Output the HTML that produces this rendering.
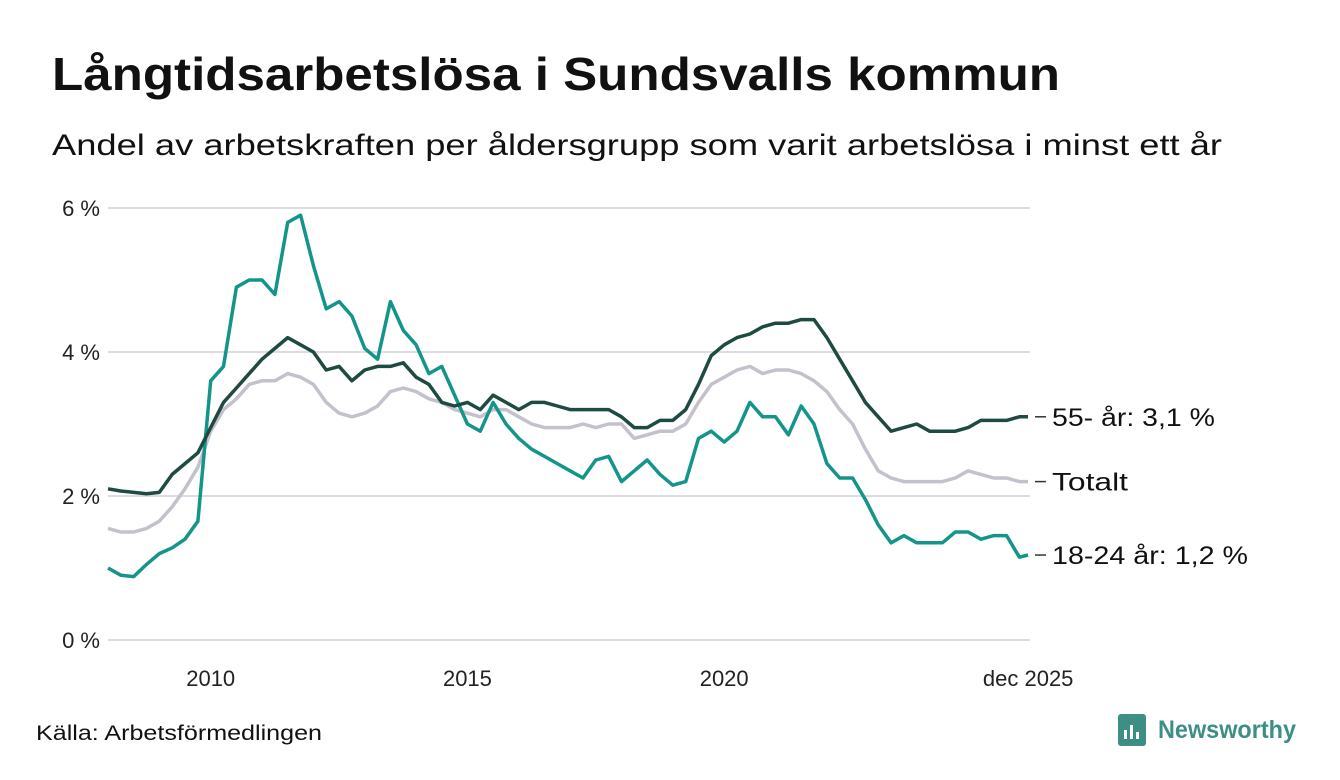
<!DOCTYPE html>
<html><head><meta charset="utf-8">
<style>
body{margin:0;background:#fff;font-family:"Liberation Sans","DejaVu Sans",sans-serif;}
#wrap{position:relative;width:1340px;height:780px;overflow:hidden;}
</style></head>
<body><div id="wrap">
<svg id="svg" width="1340" height="780">
<text x="52" y="90" font-size="46" font-weight="bold" fill="#111" textLength="1008" lengthAdjust="spacingAndGlyphs">Långtidsarbetslösa i Sundsvalls kommun</text>
<text x="52" y="155" font-size="30" fill="#111" textLength="1170" lengthAdjust="spacingAndGlyphs">Andel av arbetskraften per åldersgrupp som varit arbetslösa i minst ett år</text>
<text x="36" y="740" font-size="21" fill="#111" textLength="286" lengthAdjust="spacingAndGlyphs">Källa: Arbetsförmedlingen</text>
<g>
<rect x="1118" y="714" width="28" height="32" rx="3" fill="#3d8f85"/>
<rect x="1124" y="730" width="3" height="9" fill="#fff"/><rect x="1130" y="725" width="3" height="14" fill="#fff"/><rect x="1136" y="732" width="3" height="7" fill="#fff"/>
<text x="1158" y="738" font-size="25" font-weight="bold" fill="#3d8f85" textLength="138" lengthAdjust="spacingAndGlyphs">Newsworthy</text>
</g>
<g id="grid"></g><g id="lines"></g><g id="labels"></g>
</svg>
</div>
<script>
const yTicks=[0,2,4,6];
const yTickLabels=["0 %","2 %","4 %","6 %"];
const xTicks=[2010,2015,2020,2025.92];
const xTickLabels=["2010","2015","2020","dec 2025"];
const young=[1.0,0.9,0.88,1.05,1.2,1.28,1.4,1.65,3.6,3.8,4.9,5.0,5.0,4.8,5.8,5.9,5.2,4.6,4.7,4.5,4.05,3.9,4.7,4.3,4.1,3.7,3.8,3.4,3.0,2.9,3.3,3.0,2.8,2.65,2.55,2.45,2.35,2.25,2.5,2.55,2.2,2.35,2.5,2.3,2.15,2.2,2.8,2.9,2.75,2.9,3.3,3.1,3.1,2.85,3.25,3.0,2.45,2.25,2.25,1.95,1.6,1.35,1.45,1.35,1.35,1.35,1.5,1.5,1.4,1.45,1.45,1.15,1.18];
const old=[2.1,2.07,2.05,2.03,2.05,2.3,2.45,2.6,2.95,3.3,3.5,3.7,3.9,4.05,4.2,4.1,4.0,3.75,3.8,3.6,3.75,3.8,3.8,3.85,3.65,3.55,3.3,3.25,3.3,3.2,3.4,3.3,3.2,3.3,3.3,3.25,3.2,3.2,3.2,3.2,3.1,2.95,2.95,3.05,3.05,3.2,3.55,3.95,4.1,4.2,4.25,4.35,4.4,4.4,4.45,4.45,4.2,3.9,3.6,3.3,3.1,2.9,2.95,3.0,2.9,2.9,2.9,2.95,3.05,3.05,3.05,3.1,3.1];
const total=[1.55,1.5,1.5,1.55,1.65,1.85,2.1,2.4,2.9,3.2,3.35,3.55,3.6,3.6,3.7,3.65,3.55,3.3,3.15,3.1,3.15,3.25,3.45,3.5,3.45,3.35,3.3,3.2,3.15,3.1,3.2,3.2,3.1,3.0,2.95,2.95,2.95,3.0,2.95,3.0,3.0,2.8,2.85,2.9,2.9,3.0,3.3,3.55,3.65,3.75,3.8,3.7,3.75,3.75,3.7,3.6,3.45,3.2,3.0,2.65,2.35,2.25,2.2,2.2,2.2,2.2,2.25,2.35,2.3,2.25,2.25,2.2,2.2];
const seriesLabels=["55- år: 3,1 %","Totalt","18-24 år: 1,2 %"];
const labelLens=[163,76,196];

const NS="http://www.w3.org/2000/svg";
const X0=108,X1=1028,T0=2008,T1=2025+11/12;
const xs=t=>X0+(t-T0)/(T1-T0)*(X1-X0);
const ys=v=>640-v*72;
const tOf=(i,n)=>i===n-1?T1:T0+i/4;
function mk(tag,at,parent){const e=document.createElementNS(NS,tag);for(const k in at)e.setAttribute(k,at[k]);parent.appendChild(e);return e;}
const grid=document.getElementById('grid'),lines=document.getElementById('lines'),labels=document.getElementById('labels');
yTicks.forEach((v,i)=>{
  const l=mk('line',{x1:108,x2:1030,y1:ys(v),y2:ys(v),stroke:'#dcdce2','stroke-width':2},grid);
  
  
  const t=mk('text',{x:100,y:ys(v)+8,'font-size':22,'text-anchor':'end',fill:'#222'},grid);
  t.textContent=yTickLabels[i];
  
  
});
xTicks.forEach((v,i)=>{
  const t=mk('text',{x:xs(v),y:686,'font-size':22,'text-anchor':'middle',fill:'#222'},grid);
  t.textContent=xTickLabels[i];
  
  
});
function draw(data,color,name){
  const d=data.map((v,i)=>(i?'L':'M')+xs(tOf(i,data.length)).toFixed(1)+','+ys(v).toFixed(1)).join('');
  const p=mk('path',{d:d,fill:'none',stroke:color,'stroke-width':3.5,'stroke-linejoin':'round'},lines);
  
  
}
draw(total,'#c4c1cc','line-totalt');
draw(young,'#14958a','line-18-24');
draw(old,'#1f4a42','line-55-plus');
[[old,0],[total,1],[young,2]].forEach(([arr,k])=>{
  const y=ys(arr[arr.length-1]);
  const l=mk('line',{x1:1035,x2:1046,y1:y,y2:y,stroke:'#333','stroke-width':1.5},labels);
  
  
  const t=mk('text',{x:1052,y:y+9,'font-size':25,fill:'#111',textLength:labelLens[k],lengthAdjust:'spacingAndGlyphs'},labels);
  t.textContent=seriesLabels[k];
  
  
});
</script>
</body></html>
